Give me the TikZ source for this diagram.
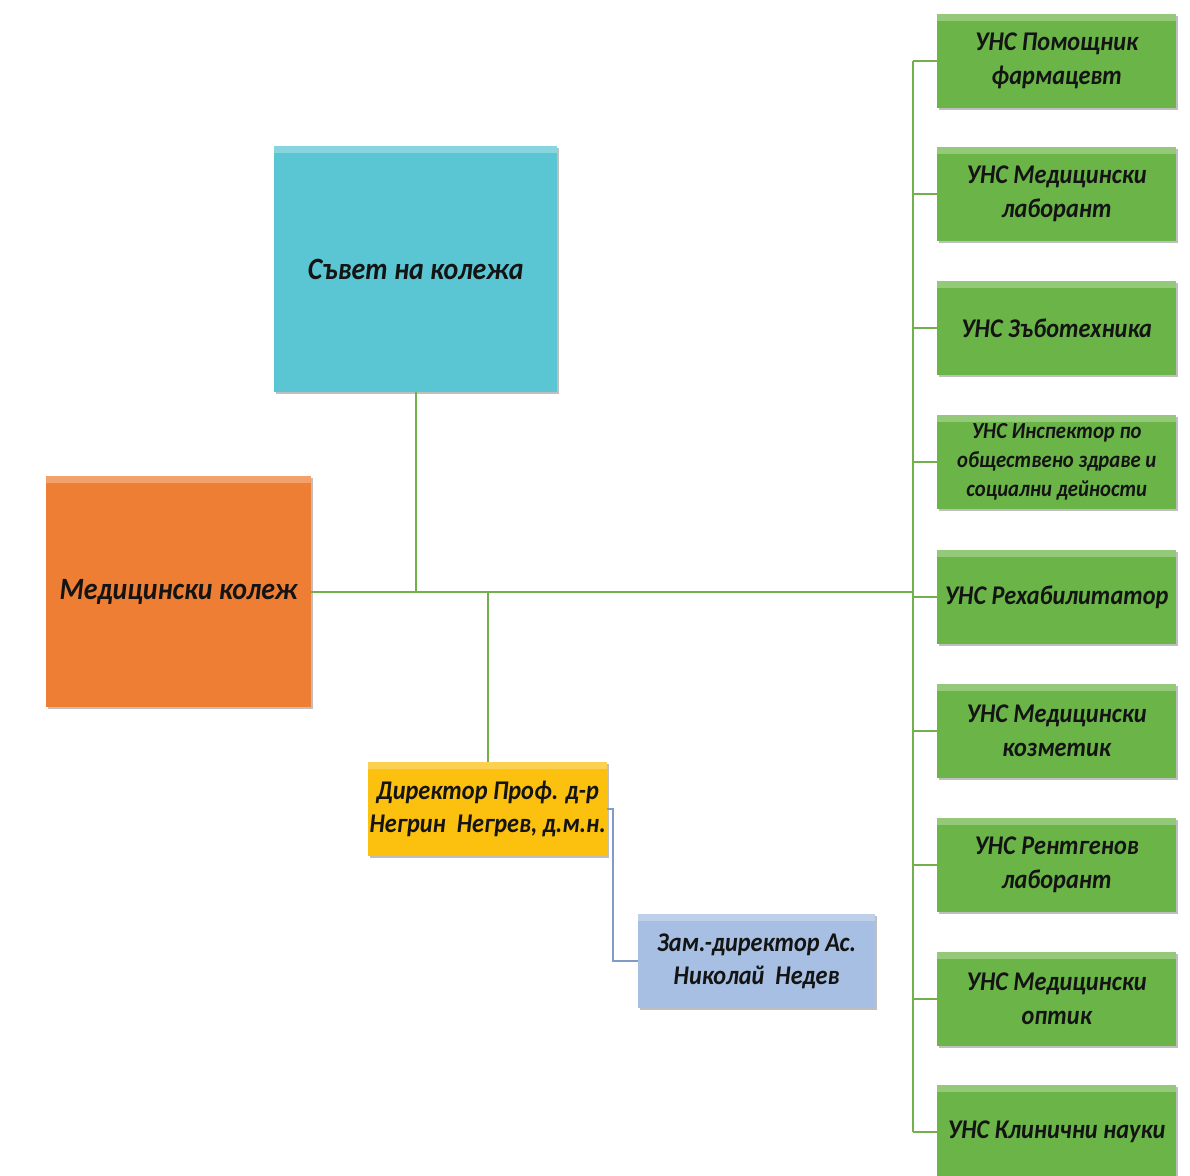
\documentclass[tikz,border=0pt]{standalone}
\usepackage{fontspec}
\setmainfont{Carlito}[FakeStretch=0.9]
\usetikzlibrary{shadows}
\definecolor{cCouncil}{HTML}{5BC6D3}
\definecolor{cCollege}{HTML}{EE7E33}
\definecolor{cDir}{HTML}{FCC00E}
\definecolor{cDep}{HTML}{A7BFE2}
\definecolor{cGreen}{HTML}{6BB548}
\definecolor{cLine}{HTML}{72B04E}
\definecolor{cBLine}{HTML}{7E9CC6}
\definecolor{cTxt}{HTML}{141414}
\tikzset{
  box/.style={anchor=north west, inner sep=0pt, align=center, text=cTxt,
    font=\bfseries\itshape\fontsize{27}{34}\selectfont,
    drop shadow={shadow xshift=2pt, shadow yshift=-2pt, fill=black, opacity=0.25},
    path picture={\fill[white,opacity=0.28] (path picture bounding box.north west) rectangle ([yshift=-7pt]path picture bounding box.north east);}},
  greenbox/.style={box, fill=cGreen, minimum width=239pt, minimum height=94pt},
  gline/.style={draw=cLine, line width=2pt},
  bline/.style={draw=cBLine, line width=2pt}
}
\begin{document}
\begin{tikzpicture}[x=1pt,y=-1pt]
\useasboundingbox (0,0) rectangle (1190,1175);
\fill[white] (0,0) rectangle (1190,1175);
% main boxes
\node[box, fill=cCouncil, minimum width=283pt, minimum height=246pt, font=\bfseries\itshape\fontsize{31}{38}\selectfont] (council) at (274,146) {Съвет на колежа};
\node[box, fill=cCollege, minimum width=265pt, minimum height=231pt, font=\bfseries\itshape\fontsize{31}{38}\selectfont] (college) at (46,476) {Медицински колеж};
\node[box, fill=cDir, minimum width=239pt, minimum height=94pt, font=\bfseries\itshape\fontsize{27}{33}\selectfont] (dir) at (368,762) {Директор Проф. д-р\\Негрин\ \ Негрев, д.м.н.};
\node[box, fill=cDep, minimum width=237pt, minimum height=94pt, font=\bfseries\itshape\fontsize{27}{33}\selectfont] (dep) at (638,914) {Зам.-директор Ас.\\Николай\ \ Недев};
% green boxes
\node[greenbox] (g1) at (937,14) {УНС Помощник\\фармацевт};
\node[greenbox] (g2) at (937,147) {УНС Медицински\\лаборант};
\node[greenbox] (g3) at (937,281) {УНС Зъботехника};
\node[greenbox, font=\bfseries\itshape\fontsize{23}{29}\selectfont] (g4) at (937,415) {УНС Инспектор по\\обществено здраве и\\социални дейности};
\node[greenbox] (g5) at (937,550) {УНС Рехабилитатор};
\node[greenbox] (g6) at (937,684) {УНС Медицински\\козметик};
\node[greenbox] (g7) at (937,818) {УНС Рентгенов\\лаборант};
\node[greenbox] (g8) at (937,952) {УНС Медицински\\оптик};
\node[greenbox] (g9) at (937,1085) {УНС Клинични науки};
% connectors
\coordinate (bx) at (913,0);
\draw[gline] (college.east) -- (bx |- college.east);
\draw[gline] (council.south) -- (council.south |- college.east);
\draw[gline] (college.east -| dir.north) -- (dir.north);
\draw[gline] (bx |- g1.west) -- (bx |- g9.west);
\foreach \g in {g1,g2,g3,g4,g5,g6,g7,g8,g9}
  \draw[gline] (bx |- \g.west) -- (\g.west);
\draw[bline] (dir.east) -- ++(6,0) |- (dep.west);
\end{tikzpicture}
\end{document}
